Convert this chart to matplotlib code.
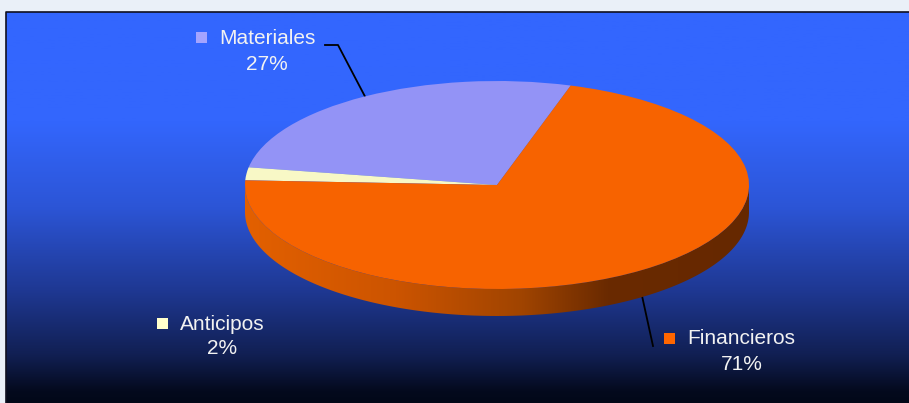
import numpy as np
import matplotlib.pyplot as plt
from matplotlib.colors import LinearSegmentedColormap
from matplotlib.patches import Polygon, Rectangle

plt.rcParams['font.family'] = ['Liberation Sans', 'DejaVu Sans']

# ==== data ====
categories = ["Materiales", "Anticipos", "Financieros"]
values = [27, 2, 71]
labels = ["27%", "2%", "71%"]
slice_colors = ["#9393f6", "#f8f8c6", "#f76300"]
marker_colors = ["#a4a4ff", "#ffffcc", "#ff6600"]

W, H = 909, 403
fig = plt.figure(figsize=(W / 100, H / 100), dpi=100)
fig.patch.set_facecolor("#eaf0f8")

# ==== background panel with gradient ====
bg = fig.add_axes([0, 0, 1, 1])
bg.set_xlim(0, W)
bg.set_ylim(H, 0)
bg.axis("off")

left, right, top, bottom = 6, 909, 12, 403
bg_cmap = LinearSegmentedColormap.from_list("bg", [
    (0.0, "#3366ff"), (0.28, "#3366fd"), (0.5, "#2c55d6"),
    (0.72, "#1e3790"), (0.88, "#111f52"), (0.97, "#040a1e"), (1.0, "#020818")])
grad = np.linspace(0, 1, 256).reshape(-1, 1)
bg.imshow(grad, cmap=bg_cmap, aspect="auto",
          extent=[left, right, bottom, top], zorder=1)
bg.plot([left, left, right], [bottom, top, top], color="#101020", lw=1.2, zorder=2)

# ==== 3D pie ====
cx, cy, rx, ry, depth = 497, 185, 252, 104, 27
d = depth / ry
start = 73

pax = fig.add_axes([(cx - rx) / W, 1 - (cy + ry + depth) / H,
                    2 * rx / W, (2 * ry + depth) / H])
pax.patch.set_alpha(0)

# side wall (front half), shaded from left to right
th = np.linspace(np.pi, 2 * np.pi, 200)
side = np.vstack([np.c_[np.cos(th), np.sin(th)],
                  np.c_[np.cos(th[::-1]), np.sin(th[::-1]) - d]])
side_poly = Polygon(side, closed=True, facecolor="none", edgecolor="none")
pax.add_patch(side_poly)
side_cmap = LinearSegmentedColormap.from_list("side", [
    (0.0, "#e36000"), (0.3, "#cc5400"), (0.55, "#a04400"),
    (0.72, "#6a2a00"), (1.0, "#662800")])
im = pax.imshow(np.linspace(0, 1, 256).reshape(1, -1), cmap=side_cmap,
                aspect="auto", extent=[-1, 1, -1 - d, 0.2], zorder=1)
im.set_clip_path(side_poly)

wedges, _ = pax.pie(values, colors=slice_colors, startangle=start,
                    counterclock=True, radius=1,
                    wedgeprops=dict(linewidth=0, zorder=3))
for w in wedges:
    w.set_zorder(3)
pax.set_aspect("auto")
pax.set_xlim(-1, 1)
pax.set_ylim(-1 - d, 1)
pax.axis("off")

# ==== labels ====
fs = 15
txt = "#f2f2f2"
lab_pos = {"Materiales": (219, 38, 267, 64),
           "Anticipos": (180, 324, 222, 348),
           "Financieros": (687, 339, 742, 365)}
for cat, pct, mc in zip(categories, labels, marker_colors):
    tx, ty, px, py = lab_pos[cat]
    bg.text(tx, ty, cat, color=txt, fontsize=fs, ha="left", va="center", zorder=5)
    bg.text(px, py, pct, color=txt, fontsize=fs, ha="center", va="center", zorder=5)
    bg.add_patch(Rectangle((tx - 23, ty - 6), 11, 11, facecolor=mc,
                           edgecolor="none", zorder=5))

# leader lines anchored at slice mid angles
ang = start + np.cumsum([0] + values[:-1]) * 3.6 + np.array(values) * 1.8
mid = np.deg2rad(ang)
# Materiales
mx, my = cx + rx * np.cos(mid[0]), cy - ry * np.sin(mid[0])
bg.plot([325, 338, mx], [45, 45, my], color="black", lw=1.3, zorder=6)
# Financieros (on the side wall)
fx, fy = cx + rx * np.cos(mid[2]), cy - ry * np.sin(mid[2]) + depth
bg.plot([fx, 653], [fy, 346], color="black", lw=1.3, zorder=6)

fig.savefig("out.png", dpi=100, facecolor=fig.get_facecolor())
